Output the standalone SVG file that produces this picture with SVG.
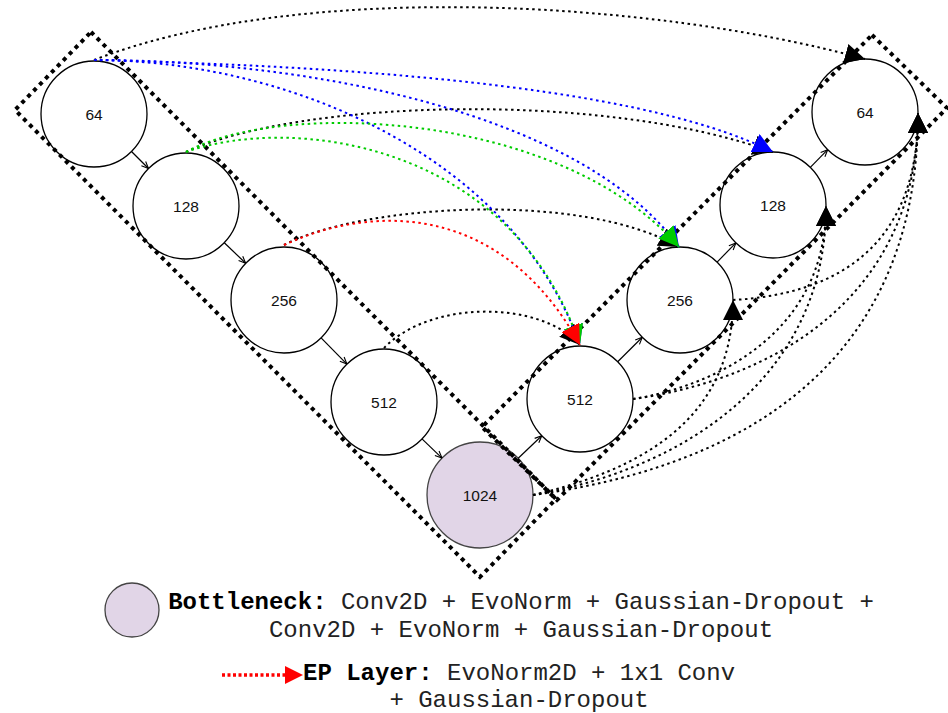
<svg xmlns="http://www.w3.org/2000/svg" width="948" height="713" viewBox="0 0 948 713">
<style>
.node circle{fill:#fff;stroke:#000;stroke-width:1.3}
.node text,.lbl{font-family:"Liberation Sans",Arial,sans-serif;font-size:15.5px;fill:#111;text-anchor:middle}
.box{fill:none;stroke:#000;stroke-width:4;stroke-dasharray:4 4.5}
.solid{fill:none;stroke:#000;stroke-width:1.2;marker-end:url(#small)}
.dk{fill:none;stroke:#000;stroke-width:2;stroke-dasharray:2.5 3.5;marker-end:url(#aBlack)}
.db{fill:none;stroke:#0000ff;stroke-width:2;stroke-dasharray:2.5 3.5;marker-end:url(#aBlue)}
.dg{fill:none;stroke:#00cc00;stroke-width:2;stroke-dasharray:2.5 3.5;marker-end:url(#aGreen)}
.dr{fill:none;stroke:#ff0000;stroke-width:2;stroke-dasharray:2.5 3.5;marker-end:url(#aRed)}
.leg{font-family:"Liberation Mono","Courier New",monospace;font-size:24px;fill:#222}
</style>
<defs>
<marker id="small" viewBox="0 0 8 8" refX="8" refY="4" markerWidth="8" markerHeight="8" markerUnits="userSpaceOnUse" orient="auto"><path d="M1,1 L8,4 L1,7" fill="none" stroke="#000" stroke-width="1.1"/></marker>
<marker id="aBlack" viewBox="0 0 20 20" refX="20" refY="10" markerWidth="20" markerHeight="20" markerUnits="userSpaceOnUse" orient="auto"><path d="M0,0 L20,10 L0,20 z" fill="#000"/></marker>
<marker id="aBlue" viewBox="0 0 20 20" refX="20" refY="10" markerWidth="20" markerHeight="20" markerUnits="userSpaceOnUse" orient="auto"><path d="M0,0 L20,10 L0,20 z" fill="#0000ff"/></marker>
<marker id="aGreen" viewBox="0 0 20 20" refX="20" refY="10" markerWidth="20" markerHeight="20" markerUnits="userSpaceOnUse" orient="auto"><path d="M0,0 L20,10 L0,20 z" fill="#00cc00"/></marker>
<marker id="aRed" viewBox="0 0 20 20" refX="20" refY="10" markerWidth="20" markerHeight="20" markerUnits="userSpaceOnUse" orient="auto"><path d="M0,0 L20,10 L0,20 z" fill="#ff0000"/></marker>
</defs>

<g id="node-enc64" class="node"><circle cx="94" cy="114" r="53"/><text x="94" y="119.5">64</text></g>
<g id="node-enc128" class="node"><circle cx="186" cy="206" r="53"/><text x="186" y="211.5">128</text></g>
<g id="node-enc256" class="node"><circle cx="284" cy="300" r="53"/><text x="284" y="305.5">256</text></g>
<g id="node-enc512" class="node"><circle cx="384" cy="402" r="53"/><text x="384" y="407.5">512</text></g>
<g id="node-bottleneck" class="node"><circle cx="480" cy="495" r="53" style="fill:#e1d5e7;stroke:#444"/><text x="480" y="500.5">1024</text></g>
<g id="node-dec512" class="node"><circle cx="580" cy="399" r="53"/><text x="580" y="404.5">512</text></g>
<g id="node-dec256" class="node"><circle cx="680" cy="300" r="53"/><text x="680" y="305.5">256</text></g>
<g id="node-dec128" class="node"><circle cx="773" cy="205" r="53"/><text x="773" y="210.5">128</text></g>
<g id="node-dec64" class="node"><circle cx="865" cy="112" r="53"/><text x="865" y="117.5">64</text></g>

<g id="encoder-box"><polygon class="box" points="91,32 556,499 480,577 15,110"/></g>
<g id="decoder-box"><polygon class="box" points="872,35 947,108 557,500 482,427"/></g>

<g id="connectors">
<path class="solid" d="M131.5,151.5 L148.5,168.5"/>
<path class="solid" d="M224.3,242.7 L245.7,263.3"/>
<path class="solid" d="M321.1,337.9 L346.9,364.1"/>
<path class="solid" d="M422,438.9 L442,458.1"/>
<path class="solid" d="M518.2,458.3 L541.8,435.7"/>
<path class="solid" d="M617.7,361.7 L642.3,337.3"/>
<path class="solid" d="M717.1,262.1 L735.9,242.9"/>
<path class="solid" d="M810.3,167.3 L827.7,149.7"/>

<path class="dk" d="M94,60 C300,-20 650,0 865,59"/>
<path class="dk" d="M186,152 C300,100 600,90 773,152"/>
<path class="dk" d="M284,245 C360,205 580,190 679,247"/>
<path class="dk" d="M384,348 C430,300 540,300 580,345"/>

<path class="dk" d="M533,495 C640,470 733,420 733,300"/>
<path class="dk" d="M533,495 C680,470 826,380 826,206"/>
<path class="dk" d="M533,495 C720,470 918,380 918,113"/>
<path class="dk" d="M633,399 C720,385 826,330 826,206"/>
<path class="dk" d="M633,399 C770,380 918,300 918,113"/>
<path class="dk" d="M733,300 C820,295 918,260 918,113"/>

<path class="db" d="M94,60 C300,65 630,80 773,152"/>
<path class="db" d="M94,60 C300,60 580,110 679,247"/>
<path class="db" d="M94,60 C280,60 510,150 580,345"/>

<path class="dg" d="M186,152 C280,100 560,110 679,247"/>
<path class="dg" d="M186,152 C290,115 510,140 580,345"/>

<path class="dr" d="M284,245 C370,205 500,200 580,345"/>
</g>

<g id="legend">
<ellipse cx="132" cy="610" rx="27" ry="27" fill="#e1d5e7" stroke="#444" stroke-width="1.3"/>
<text class="leg" x="521" y="609" text-anchor="middle"><tspan font-weight="bold" fill="#000">Bottleneck:</tspan> Conv2D + EvoNorm + Gaussian-Dropout +</text>
<text class="leg" x="521" y="637" text-anchor="middle">Conv2D + EvoNorm + Gaussian-Dropout</text>
<path d="M222,675 L288,675" stroke="#ff0000" stroke-width="3.5" stroke-dasharray="3 2.5" fill="none"/>
<path d="M285,666 L303,675 L285,684 z" fill="#ff0000"/>
<text class="leg" x="303" y="680"><tspan font-weight="bold" fill="#000">EP Layer:</tspan> EvoNorm2D + 1x1 Conv</text>
<text class="leg" x="519" y="707" text-anchor="middle">+ Gaussian-Dropout</text>
</g>
</svg>
